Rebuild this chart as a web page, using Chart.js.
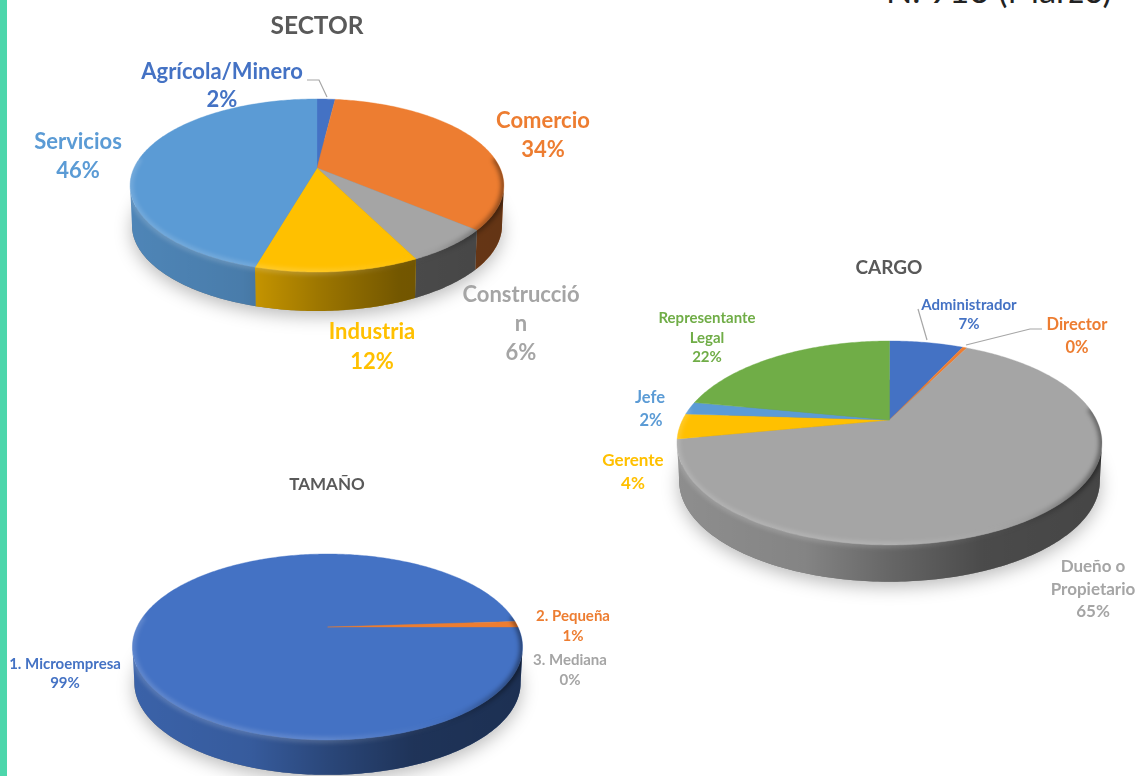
<!DOCTYPE html>
<html>
<head>
<meta charset="utf-8">
<script src="https://cdn.jsdelivr.net/npm/chart.js@4"></script>
<style>
html,body{margin:0;padding:0;background:#fff;width:1140px;height:776px;overflow:hidden}
canvas{position:absolute;left:0;top:-200px}
#bar{position:absolute;left:0;top:0;width:7px;height:776px;background:#4dd6ab}
#note{position:absolute;left:886px;top:-31px;font:400 34.5px Lato,sans-serif;color:#222;white-space:nowrap}
</style>
</head>
<body>
<div id="bar"></div>
<div id="note">N. 916 (Marzo)</div>
<canvas id="c1" width="1140" height="1300"></canvas>
<canvas id="c2" width="1140" height="1300"></canvas>
<canvas id="c3" width="1140" height="1300"></canvas>
<script>
const sectorCategories = ['Agrícola/Minero','Comercio','Construcción','Industria','Servicios'];
const sectorValues = [1.9,34.4,6.4,11.7,45.6];
const sectorColors = ['#4472C4','#ED7D31','#A5A5A5','#FFC000','#5B9BD5'];

const cargoCategories = ['Administrador','Director','Dueño o Propietario','Gerente','Jefe','Representante Legal'];
const cargoValues = [7,0.4,64.6,4,2,22];
const cargoColors = ['#4472C4','#ED7D31','#A5A5A5','#FFC000','#5B9BD5','#70AD47'];

const tamanoCategories = ['1. Microempresa','2. Pequeña','3. Mediana'];
const tamanoValues = [99,1,0];
const tamanoColors = ['#4472C4','#ED7D31','#A5A5A5'];

const FONT = 'Lato, sans-serif';
const W = 1140, H = 1300, OFF = 200;

function project(g, el, a, scale, dy){
  const X = Math.cos(a), Y = Math.sin(a), w = 1 - g.p * Y, s = scale || 1;
  return [el.x + s * el.outerRadius * X / w, el.y + (dy||0) + s * el.outerRadius * g.k * Y / w];
}
function arcPts(g, el, a0, a1, scale, dy){
  const n = Math.max(2, Math.ceil(Math.abs(a1 - a0) / 0.015)), pts = [];
  for (let i = 0; i <= n; i++) pts.push(project(g, el, a0 + (a1 - a0) * i / n, scale, dy));
  return pts;
}
function trace(ctx, pts, begin){
  pts.forEach((q, i) => { if (i === 0 && begin) ctx.moveTo(q[0], q[1]); else ctx.lineTo(q[0], q[1]); });
}
function xGrad(ctx, l, r, stops){
  const gr = ctx.createLinearGradient(l, 0, r, 0);
  stops.forEach(s => gr.addColorStop(s[0], s[1]));
  return gr;
}

const pie3d = {
  id: 'pie3d',
  beforeDatasetsDraw(chart, args, g){
    const ctx = chart.ctx, els = chart.getDatasetMeta(0).data, colors = chart.data.datasets[0].backgroundColor;
    const e0 = els[0], full = Math.PI * 2, bs = g.bottomScale;
    const rx = e0.outerRadius / Math.sqrt(1 - g.p * g.p), l = e0.x - rx, r = e0.x + rx;
    const f0 = Math.asin(g.p), f1 = Math.PI - f0;

    // ground shadow under the lower rim
    ctx.save();
    ctx.shadowColor = 'rgba(0,0,0,0.28)'; ctx.shadowBlur = 18; ctx.shadowOffsetY = 5;
    ctx.fillStyle = '#777';
    ctx.beginPath(); trace(ctx, arcPts(g, e0, 0, full, bs, g.depth), true); ctx.closePath(); ctx.fill();
    ctx.restore();

    // side wall of every slice, limited to the part that faces the viewer
    els.forEach((el, i) => {
      const a0 = Math.max(el.startAngle, f0), a1 = Math.min(el.endAngle, f1);
      if (a1 <= a0) return;
      const top = arcPts(g, el, a0, a1);
      const bot = arcPts(g, el, a1, a0, bs, g.depth);
      ctx.beginPath(); trace(ctx, top, true); trace(ctx, bot, false); ctx.closePath();
      ctx.fillStyle = colors[i]; ctx.fill();
      ctx.fillStyle = xGrad(ctx, l, r, [[0,'rgba(0,0,0,.14)'],[.3,'rgba(0,0,0,.2)'],[.5,'rgba(0,0,0,.38)'],[.72,'rgba(0,0,0,.55)'],[1,'rgba(0,0,0,.58)']]);
      ctx.fill();
    });

    // top face
    els.forEach((el, i) => {
      if (el.endAngle - el.startAngle <= 0) return;
      ctx.beginPath(); ctx.moveTo(el.x, el.y);
      trace(ctx, arcPts(g, el, el.startAngle, el.endAngle), false);
      ctx.closePath(); ctx.fillStyle = colors[i]; ctx.fill();
      ctx.strokeStyle = colors[i]; ctx.lineWidth = 0.4; ctx.stroke();
    });

    // bevel along the front rim, kept inside the silhouette
    ctx.save();
    ctx.beginPath();
    trace(ctx, arcPts(g, e0, 0, full), true); ctx.closePath();
    trace(ctx, arcPts(g, e0, f0, f1, bs, g.depth), true); trace(ctx, arcPts(g, e0, f1, f0), false); ctx.closePath();
    ctx.clip();
    ctx.filter = 'blur(2px)';
    ctx.lineWidth = 6;
    ctx.strokeStyle = xGrad(ctx, l, r, [[0,'rgba(255,255,255,.16)'],[.5,'rgba(255,255,255,.16)'],[.72,'rgba(255,255,255,.03)'],[.82,'rgba(0,0,0,.05)'],[1,'rgba(0,0,0,.42)']]);
    ctx.beginPath(); trace(ctx, arcPts(g, e0, -0.12, Math.PI + 0.12), true); ctx.stroke();
    ctx.restore();

    return false;
  },
  afterDraw(chart, args, g){
    const ctx = chart.ctx;
    ctx.save();
    ctx.translate(0, OFF);
    ctx.strokeStyle = '#a6a6a6'; ctx.lineWidth = 1.2;
    (g.leaders || []).forEach(pl => { ctx.beginPath(); trace(ctx, pl, true); ctx.stroke(); });
    ctx.textAlign = 'center'; ctx.textBaseline = 'middle';
    (g.texts || []).forEach(t => {
      ctx.font = '700 ' + t.size + 'px ' + FONT;
      ctx.fillStyle = t.color;
      ctx.fillText(t.text, t.x, t.y + 1);
    });
    ctx.restore();
  }
};
Chart.register(pie3d);

function makePie(id, categories, values, colors, rotation, geo, g){
  new Chart(document.getElementById(id), {
    type: 'pie',
    data: { labels: categories, datasets: [{ data: values, backgroundColor: colors, borderWidth: 0 }] },
    options: {
      responsive: false, animation: false, rotation,
      layout: { padding: { left: geo.cx - geo.r, right: W - geo.cx - geo.r, top: geo.cy + OFF - geo.r, bottom: H - geo.cy - OFF - geo.r } },
      plugins: { legend: { display: false }, tooltip: { enabled: false }, title: { display: false }, pie3d: g }
    }
  });
}
function tx(text, x, y, size, color){ return { text, x, y, size, color }; }
const GREY = '#595959';

makePie('c1', sectorCategories, sectorValues, sectorColors, 0, { cx: 317, cy: 168, r: 183 }, {
  p: 0.2023, k: 0.4535, depth: 40, bottomScale: 0.99,
  leaders: [[[307,80],[319,80],[327,97]]],
  texts: [
    tx('SECTOR', 317, 25, 24.5, GREY),
    tx('Agrícola/Minero', 222, 71, 22, sectorColors[0]), tx('2%', 222, 99, 22, sectorColors[0]),
    tx('Comercio', 543, 120, 22, sectorColors[1]), tx('34%', 543, 149, 22, sectorColors[1]),
    tx('Construcció', 521, 294, 22, sectorColors[2]), tx('n', 521, 323, 22, sectorColors[2]), tx('6%', 521, 352, 22, sectorColors[2]),
    tx('Industria', 372, 331, 22, sectorColors[3]), tx('12%', 372, 361, 22, sectorColors[3]),
    tx('Servicios', 78, 141, 22, sectorColors[4]), tx('46%', 78, 170, 22, sectorColors[4])
  ]
});

makePie('c2', cargoCategories, cargoValues, cargoColors, 0, { cx: 889.5, cy: 420, r: 207 }, {
  p: 0.2254, k: 0.4676, depth: 38, bottomScale: 0.99,
  leaders: [[[918,309],[927,340]], [[1042,329],[1030,329],[966,345]]],
  texts: [
    tx('CARGO', 889, 267, 19, GREY),
    tx('Administrador', 969, 304, 15, cargoColors[0]), tx('7%', 969, 323, 15, cargoColors[0]),
    tx('Director', 1077, 324, 16.5, cargoColors[1]), tx('0%', 1077, 347, 16.5, cargoColors[1]),
    tx('Dueño o', 1093, 566, 17, cargoColors[2]), tx('Propietario', 1093, 589, 17, cargoColors[2]), tx('65%', 1093, 611, 17, cargoColors[2]),
    tx('Gerente', 633, 460, 17, cargoColors[3]), tx('4%', 633, 483, 17, cargoColors[3]),
    tx('Jefe', 650, 397, 16.5, cargoColors[4]), tx('2%', 651, 420, 16.5, cargoColors[4]),
    tx('Representante', 707, 317, 15, cargoColors[5]), tx('Legal', 707, 337, 15, cargoColors[5]), tx('22%', 707, 356, 15, cargoColors[5])
  ]
});

makePie('c3', tamanoCategories, tamanoValues, tamanoColors, 90, { cx: 327.5, cy: 627, r: 190.5 }, {
  p: 0.215, k: 0.4656, depth: 36, bottomScale: 0.99,
  texts: [
    tx('TAMAÑO', 327, 484, 17, GREY),
    tx('1. Microempresa', 65, 663, 15, tamanoColors[0]), tx('99%', 65, 682, 15, tamanoColors[0]),
    tx('2. Pequeña', 573, 615, 15, tamanoColors[1]), tx('1%', 573, 635, 15, tamanoColors[1]),
    tx('3. Mediana', 570, 659, 15, tamanoColors[2]), tx('0%', 570, 679, 15, tamanoColors[2])
  ]
});
</script>
</body>
</html>
